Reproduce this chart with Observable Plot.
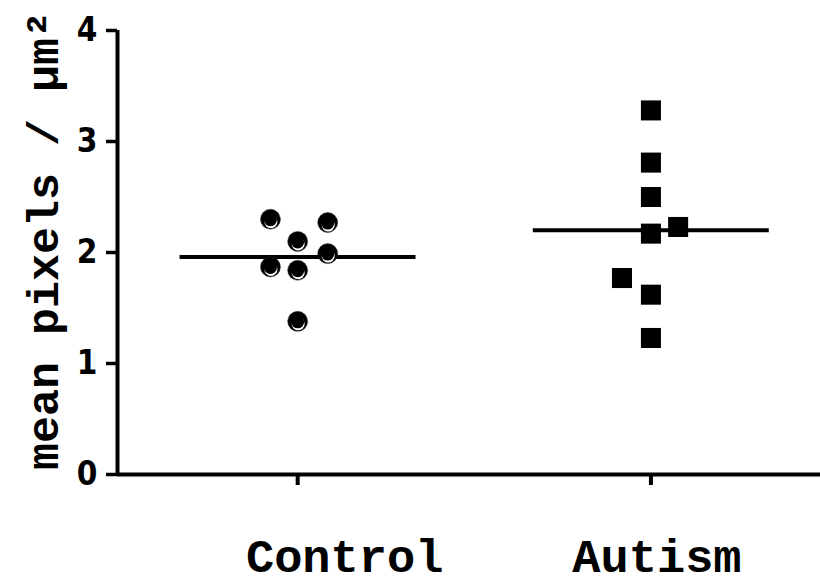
<!DOCTYPE html>
<html>
<head>
<meta charset="utf-8">
<script src="https://cdn.jsdelivr.net/npm/d3@7"></script>
<script src="https://cdn.jsdelivr.net/npm/@observablehq/plot@0.6"></script>
<style>
  html, body { margin: 0; padding: 0; background: #fff; }
  #chart svg g[aria-label="y-axis tick label"] text {
    font-family: "Liberation Sans Narrow", "DejaVu Sans Condensed", "Liberation Sans", Arial, sans-serif;
    font-weight: bold;
    font-size: 33px;
  }
</style>
</head>
<body>
<div id="chart"></div>
<script>
// ---- data ----
const groups = ["Control", "Autism"];
const groupPos = [1, 2];
const controlValues = [2.30, 2.27, 2.10, 1.87, 1.84, 1.99, 1.38];
const controlJitter = [-0.077, 0.085, 0.0, -0.077, 0.0, 0.085, 0.0];
const autismValues = [3.28, 2.81, 2.50, 2.17, 2.23, 1.77, 1.62, 1.23];
const autismJitter = [0.0, 0.0, 0.0, 0.0, 0.077, -0.082, 0.0, 0.0];
const means = [1.96, 2.20];
const yTicks = [0, 1, 2, 3, 4];
const yLabel = "mean pixels / \u03bcm\u00b2";

// ---- derived tables ----
const controlData = controlValues.map((v, i) => ({x: groupPos[0] + controlJitter[i], y: v}));
const autismData = autismValues.map((v, i) => ({x: groupPos[1] + autismJitter[i], y: v}));
const meanData = means.map((m, i) => ({x1: groupPos[i] - 0.333, x2: groupPos[i] + 0.335, y: m}));
const xDomain = [0.49, 2.48];
const mono = "'Liberation Mono', 'Courier New', monospace";

const chart = Plot.plot({
  width: 820,
  height: 587,
  marginLeft: 117,
  marginRight: 0,
  marginTop: 30,
  marginBottom: 113,
  x: {domain: xDomain, axis: null},
  y: {domain: [0, 4], axis: null},
  marks: [
    Plot.axisY({ticks: yTicks, tickFormat: d3.format("d"), tickSize: 11, tickPadding: 9, strokeWidth: 3.5, anchor: "left", label: null}),
    Plot.axisX({ticks: groupPos, tickSize: 11, strokeWidth: 4, tickFormat: () => "", anchor: "bottom", label: null}),
    Plot.ruleX([xDomain[0]], {y1: 0, y2: 4, stroke: "black", strokeWidth: 4}),
    Plot.ruleY([0], {stroke: "black", strokeWidth: 4}),
    Plot.ruleY(meanData, {x1: "x1", x2: "x2", y: "y", stroke: "black", strokeWidth: 4}),
    // control circles (black with light crescent)
    Plot.dot(controlData, {x: "x", y: "y", r: 10, fill: "black", stroke: "#333", strokeWidth: 0.5}),
    Plot.dot(controlData, {x: "x", y: "y", r: 6.5, fill: "white", dy: 2.5, dx: 0.5}),
    Plot.dot(controlData, {x: "x", y: "y", r: 6.5, fill: "black", dy: 0.5}),
    // autism squares
    Plot.dot(autismData, {x: "x", y: "y", symbol: "square", r: 11.3, fill: "black"}),
    // x labels
    Plot.text([groups[0]], {x: groupPos[0], frameAnchor: "bottom", lineAnchor: "bottom", textAnchor: "middle", dy: 97, dx: 47,
      fontSize: 47, fontWeight: "bold", fontFamily: mono, fill: "black"}),
    Plot.text([groups[1]], {x: groupPos[1], frameAnchor: "bottom", lineAnchor: "bottom", textAnchor: "middle", dy: 97, dx: 6,
      fontSize: 47, fontWeight: "bold", fontFamily: mono, fill: "black"}),
    // y label
    Plot.text([yLabel], {frameAnchor: "left", lineAnchor: "bottom", textAnchor: "middle", rotate: -90, dx: -60, dy: -12,
      fontSize: 45, fontWeight: "bold", fontFamily: mono, fill: "black"})
  ]
});
document.getElementById("chart").appendChild(chart);
</script>
</body>
</html>
